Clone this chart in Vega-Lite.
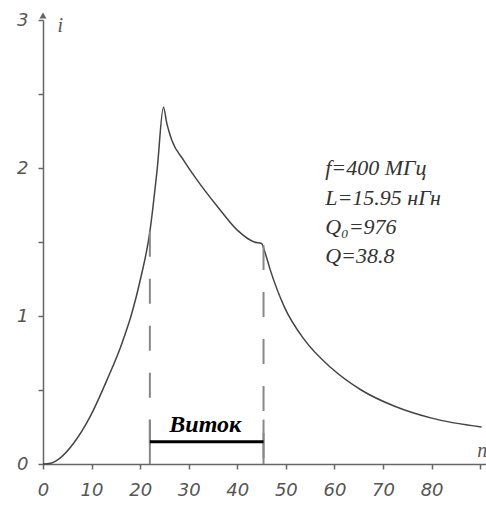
{
  "$schema": "https://vega.github.io/schema/vega-lite/v6.json",
  "width": 443,
  "height": 444,
  "autosize": "none",
  "padding": {"left": 43, "top": 20, "right": 0, "bottom": 42},
  "background": "white",
  "config": {"view": {"stroke": null}},
  "datasets": {
    "curve": [
      {"n": 0, "i": 0},
      {"n": 1.5, "i": 0.005},
      {"n": 3.5, "i": 0.04},
      {"n": 6.3, "i": 0.14},
      {"n": 9.7, "i": 0.32},
      {"n": 13.2, "i": 0.57},
      {"n": 16.3, "i": 0.82},
      {"n": 18.3, "i": 1.02},
      {"n": 20, "i": 1.24},
      {"n": 22, "i": 1.57},
      {"n": 23.5, "i": 1.99},
      {"n": 24.8, "i": 2.41},
      {"n": 25.5, "i": 2.3},
      {"n": 26.5, "i": 2.19},
      {"n": 29, "i": 2.05},
      {"n": 31.7, "i": 1.92},
      {"n": 35.9, "i": 1.74},
      {"n": 40, "i": 1.58},
      {"n": 43.5, "i": 1.5},
      {"n": 45, "i": 1.49},
      {"n": 45.6, "i": 1.44},
      {"n": 46.8, "i": 1.31},
      {"n": 49.7, "i": 1.06},
      {"n": 53.8, "i": 0.84},
      {"n": 59.3, "i": 0.65},
      {"n": 65.5, "i": 0.5},
      {"n": 72.4, "i": 0.39},
      {"n": 80, "i": 0.31},
      {"n": 90.3, "i": 0.25}
    ],
    "bounds": [
      {"n": 22, "top": 1.57},
      {"n": 45.4, "top": 1.48}
    ],
    "params": [
      {"n": 58.1, "i": 1.953, "label": "f=400 МГц"},
      {"n": 58.1, "i": 1.75, "label": "L=15.95 нГн"},
      {"n": 58.1, "i": 1.554, "label": "Q₀=976"},
      {"n": 58.1, "i": 1.358, "label": "Q=38.8"}
    ]
  },
  "layer": [
    {
      "data": {"name": "curve"},
      "mark": {"type": "line", "color": "#444444", "strokeWidth": 1.5, "interpolate": "monotone"},
      "encoding": {
        "x": {
          "field": "n", "type": "quantitative",
          "scale": {"domain": [0, 91.2], "nice": false, "zero": false},
          "axis": {
            "title": null, "grid": false,
            "values": [0, 5, 10, 15, 20, 25, 30, 35, 40, 45, 50, 55, 60, 65, 70, 75, 80, 85, 90],
            "labelExpr": "datum.value % 10 === 0 && datum.value < 90 ? format(datum.value, 'd') : ''",
            "domainColor": "#666666", "domainWidth": 1.5,
            "tickColor": "#666666", "tickWidth": 1.5, "tickSize": 5,
            "labelFont": "DejaVu Sans", "labelFontStyle": "italic", "labelFontSize": 18,
            "labelColor": "#555555", "labelPadding": 12, "labelFlush": false, "labelOverlap": false
          }
        },
        "y": {
          "field": "i", "type": "quantitative",
          "scale": {"domain": [0, 3], "nice": false},
          "axis": {
            "title": null, "grid": false,
            "values": [0, 0.5, 1, 1.5, 2, 2.5, 3],
            "labelExpr": "datum.value % 1 === 0 ? format(datum.value, 'd') : ''",
            "domainColor": "#666666", "domainWidth": 1.5,
            "tickColor": "#666666", "tickWidth": 1.5, "tickSize": 5,
            "labelFont": "DejaVu Sans", "labelFontStyle": "italic", "labelFontSize": 18,
            "labelColor": "#555555", "labelPadding": 10, "labelFlush": false, "labelOverlap": false
          }
        }
      }
    },
    {
      "data": {"name": "bounds"},
      "mark": {"type": "rule", "color": "#888888", "strokeWidth": 2, "strokeDash": [25, 22]},
      "encoding": {
        "x": {"field": "n", "type": "quantitative"},
        "y": {"field": "top", "type": "quantitative"},
        "y2": {"datum": 0}
      }
    },
    {
      "data": {"name": "bounds"},
      "mark": {"type": "rule", "color": "#888888", "strokeWidth": 2},
      "encoding": {
        "x": {"field": "n", "type": "quantitative"},
        "y": {"datum": 0.3},
        "y2": {"datum": 0}
      }
    },
    {
      "data": {"values": [{"a": 22, "b": 45.4, "lvl": 0.15}]},
      "mark": {"type": "rule", "color": "#000000", "strokeWidth": 3},
      "encoding": {
        "x": {"field": "a", "type": "quantitative"},
        "x2": {"field": "b"},
        "y": {"field": "lvl", "type": "quantitative"}
      }
    },
    {
      "data": {"values": [{"n": 33.4, "i": 0.215, "label": "Виток"}]},
      "mark": {"type": "text", "font": "Liberation Serif", "fontStyle": "italic", "fontWeight": "bold", "fontSize": 24, "color": "#000000", "align": "center", "baseline": "alphabetic"},
      "encoding": {
        "x": {"field": "n", "type": "quantitative"},
        "y": {"field": "i", "type": "quantitative"},
        "text": {"field": "label"}
      }
    },
    {
      "data": {"name": "params"},
      "mark": {"type": "text", "font": "Liberation Serif", "fontStyle": "italic", "fontSize": 22, "color": "#333333", "align": "left", "baseline": "alphabetic"},
      "encoding": {
        "x": {"field": "n", "type": "quantitative"},
        "y": {"field": "i", "type": "quantitative"},
        "text": {"field": "label"}
      }
    },
    {
      "data": {"values": [{"n": 3.0, "i": 2.92, "label": "i"}, {"n": 89.4, "i": 0.05, "label": "n"}]},
      "mark": {"type": "text", "font": "Liberation Serif", "fontStyle": "italic", "fontSize": 20, "color": "#555555", "align": "left", "baseline": "alphabetic"},
      "encoding": {
        "x": {"field": "n", "type": "quantitative"},
        "y": {"field": "i", "type": "quantitative"},
        "text": {"field": "label"}
      }
    },
    {
      "data": {"values": [{"n": 0, "i": 3.03}]},
      "mark": {"type": "point", "shape": "triangle-up", "filled": true, "color": "#666666", "size": 50, "opacity": 1, "clip": false},
      "encoding": {
        "x": {"field": "n", "type": "quantitative"},
        "y": {"field": "i", "type": "quantitative"}
      }
    }
  ]
}
